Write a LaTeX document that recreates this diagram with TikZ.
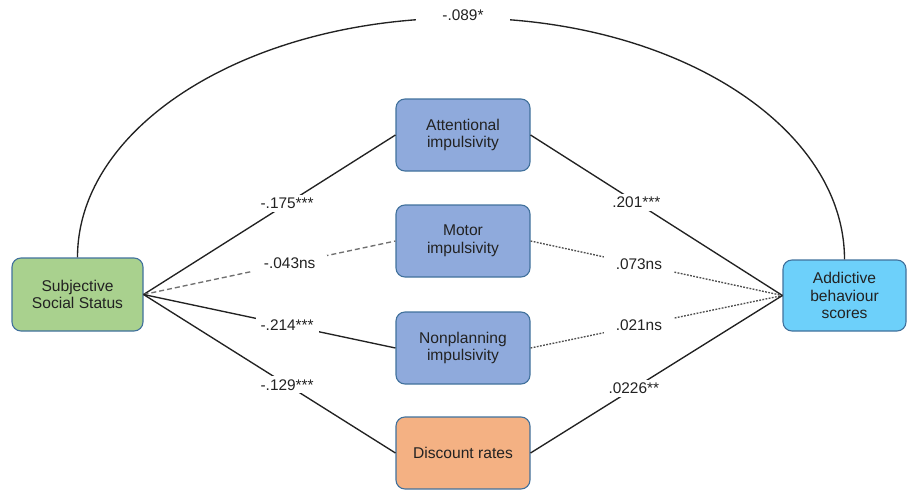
\documentclass[tikz,border=0pt]{standalone}
\usepackage{fontspec}
\setmainfont{Liberation Sans}
\definecolor{bordc}{HTML}{41719C}
\definecolor{greenf}{HTML}{A9D18E}
\definecolor{bluef}{HTML}{8FAADC}
\definecolor{orangef}{HTML}{F4B183}
\definecolor{cyanf}{HTML}{6DD0FA}
\definecolor{linec}{HTML}{222222}
\begin{document}
\begin{tikzpicture}[x=1pt,y=-1pt,
  box/.style={draw=bordc, rounded corners=9pt, line width=1.1pt, align=center,
    minimum width=134pt, minimum height=72pt, inner sep=2pt, text=linec,
    font=\fontsize{15.6}{17.8}\selectfont},
  lab/.style={fill=white, text=linec, inner sep=3pt, font=\fontsize{15.4}{17}\selectfont},
  conn/.style={draw=linec, line width=1.35pt},
  dashc/.style={draw=linec!65, line width=1.35pt, dash pattern=on 5pt off 3pt},
  dotc/.style={draw=linec!80, line width=1.35pt, dash pattern=on 1.8pt off 1.4pt}]
\useasboundingbox (0,0) rectangle (907,490);
\node[box, fill=greenf, minimum width=131pt, minimum height=73pt] (sss) at (77.5,294.5) {Subjective\\Social Status};
\node[box, fill=cyanf, minimum width=123pt, minimum height=71pt] (abs) at (844.5,295.5) {Addictive\\behaviour\\scores};
\node[box, fill=bluef] (att) at (463,135) {Attentional\\impulsivity};
\node[box, fill=bluef] (mot) at (463,241) {Motor\\impulsivity};
\node[box, fill=bluef] (non) at (463,348) {Nonplanning\\impulsivity};
\node[box, fill=orangef] (dis) at (463,453) {Discount rates};
% direct path arc
\draw[conn] (sss.north) .. controls +(0,-132.6) and (249.8,18) .. (463,18)
  .. controls (676.2,18) and +(0,-132.6) .. (abs.north);
\node[lab, inner xsep=26pt] (l0) at (463,15) {-.089*};
% left paths
\draw[conn] (sss.east) -- node[lab, pos=0.57, inner xsep=4pt] (l1) {-.175***} (att.west);
\draw[dashc] (sss.east) -- node[lab, pos=0.58, inner xsep=12pt] (l2) {-.043ns} (mot.west);
\draw[conn] (sss.east) -- node[lab, pos=0.57, inner xsep=5pt] (l3) {-.214***} (non.west);
\draw[conn] (sss.east) -- node[lab, pos=0.57, inner xsep=4pt] (l4) {-.129***} (dis.west);
% right paths
\draw[conn] (att.east) -- node[lab, pos=0.42, inner xsep=4pt] (r1) {.201***} (abs.west);
\draw[dotc] (mot.east) -- node[lab, pos=0.43, inner xsep=12pt] (r2) {.073ns} (abs.west);
\draw[dotc] (non.east) -- node[lab, pos=0.43, inner xsep=12pt] (r3) {.021ns} (abs.west);
\draw[conn] (dis.east) -- node[lab, pos=0.41, inner xsep=4pt] (r4) {.0226**} (abs.west);
\end{tikzpicture}
\end{document}
